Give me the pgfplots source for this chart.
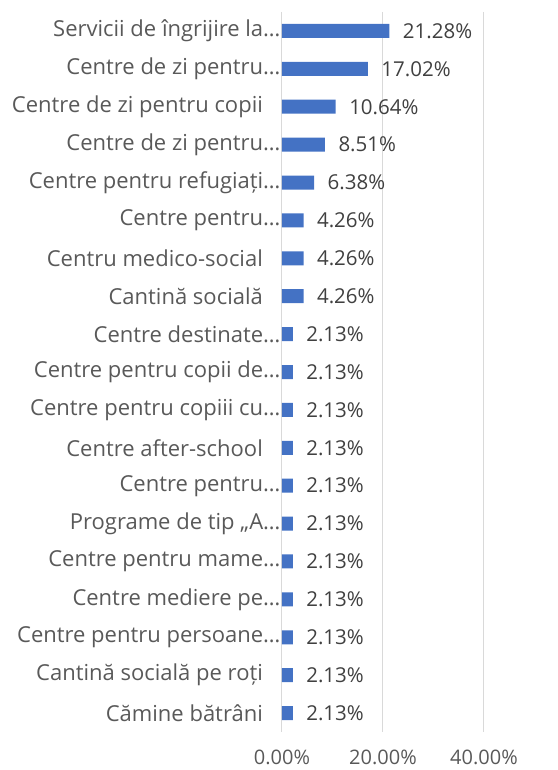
\documentclass[border=0pt]{standalone}
\usepackage{pgfplots}
\pgfplotsset{compat=1.18}
\usepackage{fontspec}
\setmainfont{Open Sans}
\definecolor{barblue}{HTML}{4472C4}
\definecolor{lblgray}{HTML}{595959}
\definecolor{valgray}{HTML}{404040}
\definecolor{gridgray}{HTML}{D9D9D9}
\begin{document}
\begin{tikzpicture}
\path[use as bounding box] (-282pt,-38pt) rectangle (275pt,732pt);
\begin{axis}[
  at={(0pt,0pt)}, anchor=south west,
  scale only axis,
  width=202pt, height=720pt,
  xbar, bar width=14pt,
  xmin=0, xmax=40,
  ymin=-0.5, ymax=18.5,
  y dir=reverse,
  ytick={0,...,18},
  yticklabels={
    {Servicii de îngrijire la…},
    {Centre de zi pentru…},
    {Centre de zi pentru copii\kern0.8em},
    {Centre de zi pentru…},
    {Centre pentru refugiați…},
    {Centre pentru…},
    {Centru medico-social\kern0.8em},
    {Cantină socială\kern0.8em},
    {Centre destinate…},
    {Centre pentru copii de…},
    {Centre pentru copiii cu…},
    {Centre after-school\kern0.8em},
    {Centre pentru…},
    {Programe de tip „A…},
    {Centre pentru mame…},
    {Centre mediere pe…},
    {Centre pentru persoane…},
    {Cantină socială pe roți\kern0.8em},
    {Cămine bătrâni\kern0.8em}
  },
  xtick={0,20,40},
  xticklabels={0.00\%,20.00\%,40.00\%},
  xmajorgrids,
  major grid style={draw=gridgray, line width=1pt},
  axis line style={draw=none},
  major tick length=0pt,
  tick label style={text=lblgray},
  yticklabel style={font=\fontsize{22}{24}\selectfont, xshift=2pt},
  xticklabel style={font=\fontsize{20}{22}\selectfont, yshift=-14pt},
  /pgf/number format/assume math mode=true,
  nodes near coords={\pgfmathprintnumber[fixed,fixed zerofill,precision=2,assume math mode=true]{\pgfplotspointmeta}\%},
  nodes near coords style={font=\fontsize{20.5}{23}\selectfont, text=valgray, anchor=west, xshift=10pt},
  point meta=x,
]
\addplot[fill=barblue, draw=none] coordinates {
  (21.28,0) (17.02,1) (10.64,2) (8.51,3) (6.38,4) (4.26,5) (4.26,6) (4.26,7)
  (2.13,8) (2.13,9) (2.13,10) (2.13,11) (2.13,12) (2.13,13) (2.13,14)
  (2.13,15) (2.13,16) (2.13,17) (2.13,18)
};
\end{axis}
\end{tikzpicture}
\end{document}
